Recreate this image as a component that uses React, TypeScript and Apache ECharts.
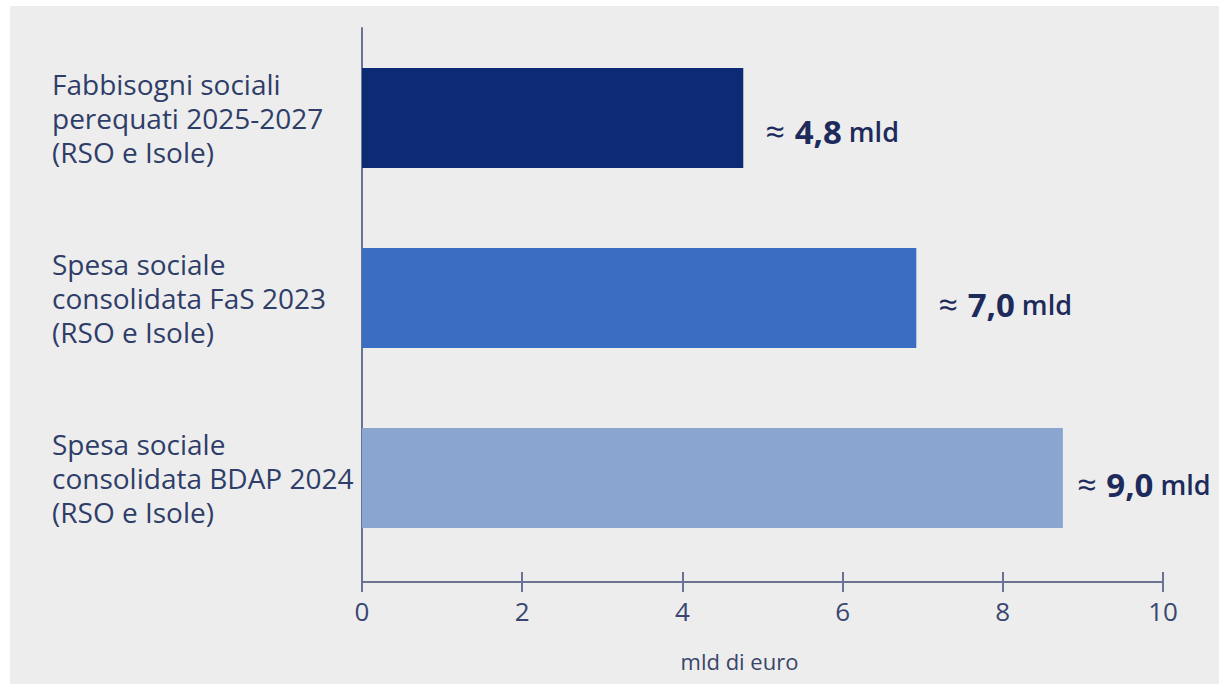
import React, { useEffect, useRef } from "react";
import * as echarts from "echarts";

const categories = [
  "Fabbisogni sociali\nperequati 2025-2027\n(RSO e Isole)",
  "Spesa sociale\nconsolidata FaS 2023\n(RSO e Isole)",
  "Spesa sociale\nconsolidata BDAP 2024\n(RSO e Isole)",
];
const values = [4.76, 6.92, 8.75];
const valueLabels = ["4,8", "7,0", "9,0"];
const barColors = ["#0d2b74", "#3a6ec2", "#89a5d0"];
const xMin = 0;
const xMax = 10;
const xInterval = 2;
const axisName = "mld di euro";

const GRID_LEFT = 352;
const GRID_TOP = 22;
const GRID_HEIGHT = 540;
const GRID_RIGHT = 56;
const AXIS_OFFSET = 14;
const AXIS_COLOR = "#6b7392";
const labelOffsets = [13, 6, 6];
const labelDistances = [22, 22, 14];

export default function App() {
  const ref = useRef<HTMLDivElement>(null);
  useEffect(() => {
    if (!ref.current) return;
    const chart = echarts.init(ref.current, null, { renderer: "svg" });
    const baseX = {
      type: "value",
      min: xMin,
      max: xMax,
      interval: xInterval,
      position: "bottom",
      offset: AXIS_OFFSET,
      splitLine: { show: false },
    };
    chart.setOption({
      animation: false,
      backgroundColor: "#ededed",
      grid: {
        left: GRID_LEFT,
        top: GRID_TOP,
        height: GRID_HEIGHT,
        right: GRID_RIGHT,
        containLabel: false,
      },
      xAxis: [
        {
          ...baseX,
          axisLine: { show: true, lineStyle: { color: AXIS_COLOR, width: 2 } },
          axisTick: { show: true, inside: false, length: 10, lineStyle: { color: AXIS_COLOR, width: 2 } },
          axisLabel: {
            show: true,
            margin: 16,
            fontFamily: "Open Sans",
            fontSize: 26,
            color: "#3a4670",
          },
          name: axisName,
          nameLocation: "middle",
          nameGap: 68,
          nameTextStyle: {
            fontFamily: "Open Sans",
            fontSize: 22,
            color: "#3a4568",
            padding: [0, 46, 0, 0],
          },
        },
        {
          ...baseX,
          axisLine: { show: false },
          axisTick: { show: true, inside: true, length: 10, lineStyle: { color: AXIS_COLOR, width: 2 } },
          axisLabel: { show: false },
        },
      ],
      yAxis: {
        type: "category",
        inverse: true,
        data: categories,
        axisLine: { show: true, lineStyle: { color: AXIS_COLOR, width: 2 } },
        axisTick: { show: false },
        axisLabel: {
          align: "left",
          margin: 310,
          fontFamily: "Open Sans",
          fontSize: 28,
          lineHeight: 34,
          color: "#2f3d69",
        },
      },
      graphic: [
        {
          type: "line",
          shape: { x1: GRID_LEFT, y1: GRID_TOP + GRID_HEIGHT - 1, x2: GRID_LEFT, y2: GRID_TOP + GRID_HEIGHT + AXIS_OFFSET },
          style: { stroke: AXIS_COLOR, lineWidth: 2 },
          silent: true,
        },
      ],
      series: [
        {
          type: "bar",
          xAxisIndex: 0,
          barWidth: 100,
          data: values.map((v, i) => ({
            value: v,
            itemStyle: { color: barColors[i] },
            label: { distance: labelDistances[i], offset: [0, labelOffsets[i]] },
          })),
          label: {
            show: true,
            position: "right",
            formatter: (p: any) => `{a|≈}{b|${valueLabels[p.dataIndex]}}{c|mld}`,
            rich: {
              a: { fontFamily: "Open Sans", fontSize: 34, color: "#1d2b5c", padding: [0, 10, 0, 0] },
              b: { fontFamily: "Open Sans", fontSize: 33, fontWeight: "bold", color: "#1d2b5c" },
              c: { fontFamily: "Open Sans", fontSize: 27, fontWeight: 600, color: "#1d2b5c", padding: [0, 0, 0, 7] },
            },
          },
        },
      ],
    });
    return () => chart.dispose();
  }, []);
  return (
    <div style={{ position: "absolute", left: 0, top: 0, width: 1219, height: 684, background: "#ffffff" }}>
      <div ref={ref} style={{ position: "absolute", left: 10, top: 6, width: 1209, height: 678 }} />
    </div>
  );
}
